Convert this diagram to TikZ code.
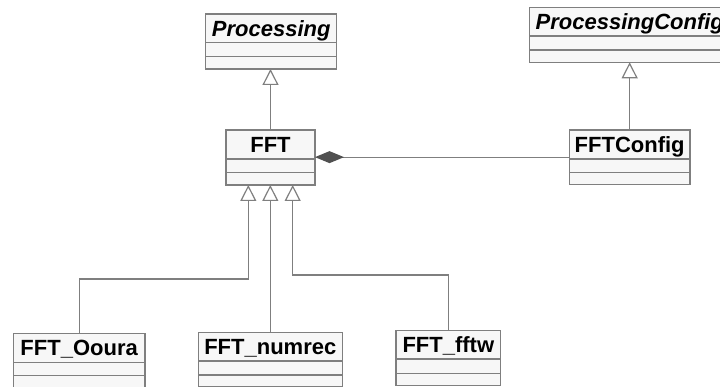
\documentclass[tikz,border=0pt]{standalone}
\usepackage{fontspec}
\setmainfont{Liberation Sans}
\usetikzlibrary{arrows.meta}
\definecolor{boxfill}{HTML}{F7F7F7}
\definecolor{edgegray}{HTML}{7F7F7F}
\definecolor{diagray}{HTML}{505050}
\tikzset{
  clsbox/.style={draw=edgegray, fill=boxfill, line width=1.2pt, inner sep=0pt, outer sep=0pt},
  clsedge/.style={draw=edgegray, line width=1.2pt},
  clsname/.style={inner sep=0pt, text height=15.8pt, text depth=0pt, font=\fontsize{22}{26}\selectfont\bfseries},
  absname/.style={clsname, font=\fontsize{22}{26}\selectfont\bfseries\itshape},
  gen/.style={draw=edgegray, line width=1.2pt, -{Triangle[length=16pt,width=16pt,fill=white]}},
  comp/.style={draw=edgegray, line width=1.2pt, -{Diamond[length=29pt,width=12pt,fill=diagray,color=diagray]}}
}
\newcommand\umlclass[9]{%
  \node[clsbox, minimum width=#4 pt, minimum height=#5 pt, anchor=north west] (#1) at (#2,#3) {};
  \draw[clsedge] ([yshift=-#6 pt]#1.north west) -- ([yshift=-#6 pt]#1.north east);
  \draw[clsedge] ([yshift=-#7 pt]#1.north west) -- ([yshift=-#7 pt]#1.north east);
  \node[#9] (#1-name) at ([yshift=-#6 pt/2]#1.north) {#8};
}
\begin{document}
\begin{tikzpicture}[x=1pt,y=-1pt]
\useasboundingbox (0,0) rectangle (720,387);
\clip (0,0) rectangle (720,387);
\umlclass{proc}{205.7}{14}{131}{55}{28.7}{42.7}{Processing}{absname}
\umlclass{pconf}{529.3}{7.3}{201}{55}{28.7}{42.7}{ProcessingConfig}{absname}
\umlclass{fft}{226}{130}{89}{55}{29}{42.3}{FFT}{clsname}
\umlclass{fftconf}{569.3}{130}{120.7}{54.3}{29}{42.3}{FFTConfig}{clsname}
\umlclass{oura}{13.3}{333.3}{131.7}{55}{29}{42.4}{FFT\_Ooura}{clsname}
\umlclass{numrec}{198.3}{332.3}{144}{54.4}{28.7}{42.7}{FFT\_numrec}{clsname}
\umlclass{fftw}{396}{330.7}{104.7}{55}{28.3}{42.6}{FFT\_fftw}{clsname}
\coordinate (ja) at (248.3,279);
\coordinate (jc) at (292.7,275);
\draw[gen] (fft.north) -- (fft.north |- proc.south);
\draw[gen] (fftconf.north) -- (fftconf.north |- pconf.south);
\draw[comp] (fftconf.west) -- (fftconf.west -| fft.east);
\draw[gen] (oura.north) |- (ja) -- (ja |- fft.south);
\draw[gen] (numrec.north) -- (numrec.north |- fft.south);
\draw[gen] (fftw.north) |- (jc) -- (jc |- fft.south);
\end{tikzpicture}
\end{document}
